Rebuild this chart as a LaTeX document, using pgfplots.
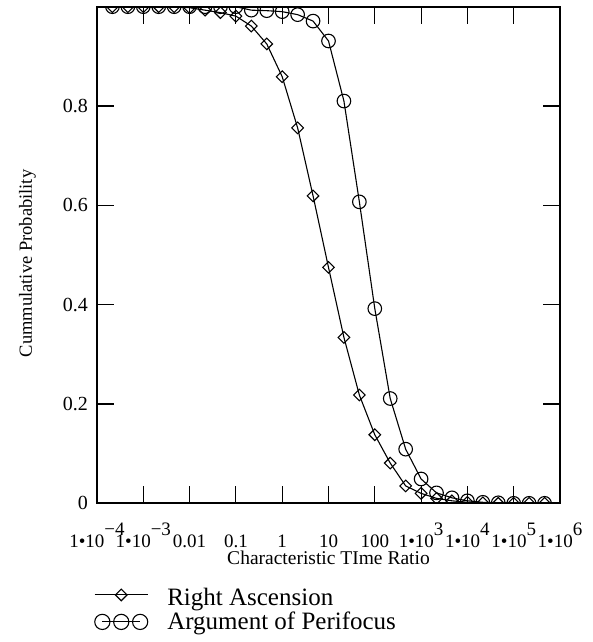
\documentclass[border=0pt]{standalone}
\usepackage{fontspec}
\setmainfont{Liberation Serif}
\usepackage{pgfplots}
\pgfplotsset{compat=1.18}
\newcommand{\sci}[1]{1•10\raisebox{0.6em}{#1}}
\pgfplotstableread{
x y
2.154e-4 1.000
4.642e-4 1.000
1e-3 1.000
2.154e-3 1.000
4.642e-3 1.000
0.01 0.998
0.02154 0.993
0.04642 0.988
0.1 0.981
0.2154 0.961
0.4642 0.925
1 0.859
2.154 0.756
4.642 0.619
10 0.475
21.54 0.334
46.42 0.218
100 0.138
215.4 0.081
464.2 0.035
1000 0.020
2154 0.010
4642 0.005
1e4 0.002
21544 0.001
46416 0
1e5 0
215443 0
464159 0
}\ra
\pgfplotstableread{
x y
2.154e-4 1.000
4.642e-4 1.000
1e-3 1.000
2.154e-3 1.000
4.642e-3 1.000
0.01 1.000
0.02154 1.000
0.04642 1.000
0.1 1.000
0.2154 0.993
0.4642 0.992
1 0.990
2.154 0.984
4.642 0.971
10 0.931
21.54 0.810
46.42 0.607
100 0.392
215.4 0.211
464.2 0.109
1000 0.049
2154 0.021
4642 0.011
1e4 0.005
21544 0.002
46416 0.001
1e5 0
215443 0
464159 0
}\ap
\pgfplotsset{
  raleg/.style={legend image code/.code={\draw[##1, mark repeat=2, mark phase=2] plot coordinates {(0pt,3pt) (26.5pt,3pt) (53pt,3pt)};}},
  apleg/.style={legend image code/.code={\draw[##1, mark size=7.6pt] plot coordinates {(7.6pt,0pt) (26.5pt,0pt) (45.4pt,0pt)};}},
}
\begin{document}
\begin{tikzpicture}
\begin{axis}[
  at={(0pt,0pt)}, anchor=south west,
  scale only axis, width=463pt, height=496.6pt,
  xmode=log, xmin=1e-4, xmax=1e6, ymin=0, ymax=1,
  xtick={1e-4,1e-3,1e-2,1e-1,1,10,100,1e3,1e4,1e5,1e6},
  xticklabels={\sci{−4},\sci{−3},0.01,0.1,1,10,100,\sci{3},\sci{4},\sci{5},\sci{6}},
  xminorticks=false,
  ytick={0,0.2,0.4,0.6,0.8},
  yticklabels={0,0.2,0.4,0.6,0.8},
  tick align=inside,
  major tick length=17pt,
  every tick/.style={black, line width=1.1pt},
  axis line style={line width=1.8pt},
  xticklabel style={anchor=base, yshift=-44pt, font=\fontsize{19}{21}\selectfont, inner sep=0pt},
  yticklabel style={anchor=east, xshift=-9pt, font=\fontsize{20}{22}\selectfont, inner sep=0pt},
  xlabel={Characteristic TIme Ratio},
  xlabel style={at={(axis description cs:0.5,0)}, anchor=base, yshift=-61pt, font=\fontsize{19.5}{21}\selectfont, inner sep=0pt},
  ylabel={Cummulative Probability},
  ylabel style={at={(axis description cs:-0.1404,0.483)}, anchor=base, font=\fontsize{18.5}{20}\selectfont, inner sep=0pt},
  clip mode=individual,
  clip marker paths=true,
  legend cell align=left,
  legend style={at={(axis description cs:0,0)}, anchor=north west, xshift=-3pt, yshift=-84pt,
    draw=none, fill=none, inner sep=0pt, font=\fontsize{25}{27}\selectfont,
    row sep=3pt, column sep=18pt, nodes={inner sep=1pt}},
]
\addplot[black, line width=1.1pt, mark=square, mark size=4.1pt, mark options={rotate=45, solid}, raleg]
  table {\ra};
\addlegendentry{Right Ascension}
\addplot[black, line width=1.1pt, mark=o, mark size=6.8pt, mark options={solid}, apleg]
  table {\ap};
\addlegendentry{Argument of Perifocus}
\end{axis}
\pgfresetboundingbox
\useasboundingbox (-97pt,-138.7pt) rectangle (496pt,503.3pt);
\end{tikzpicture}
\end{document}
